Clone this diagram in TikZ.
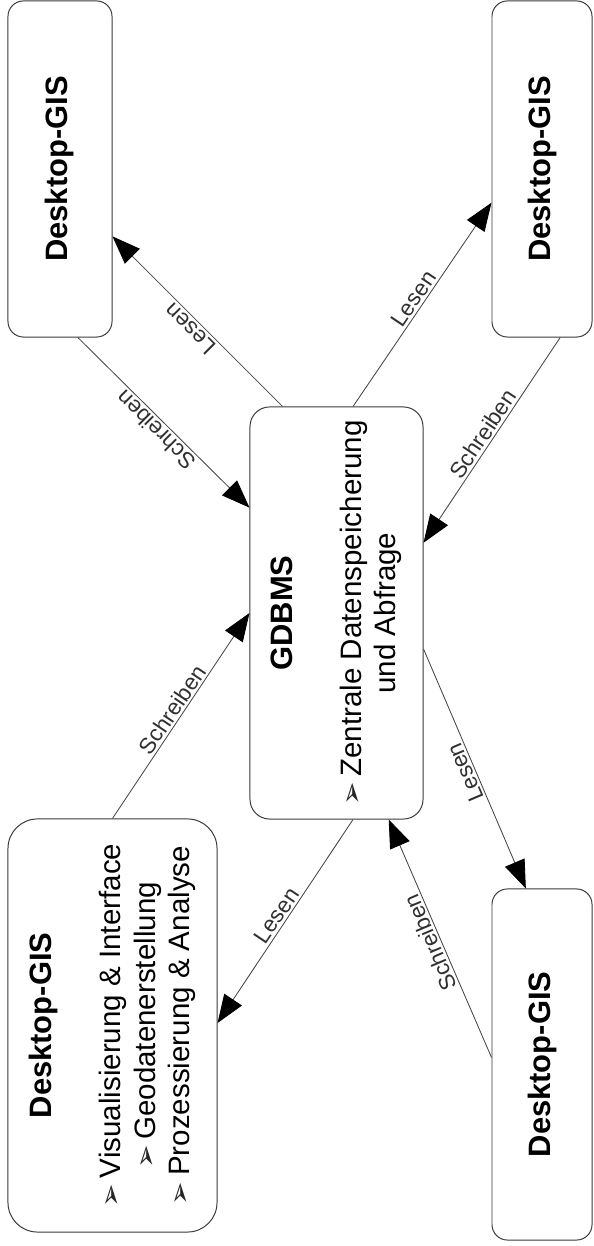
\documentclass[tikz,border=0pt]{standalone}
\usepackage{fontspec}
\setmainfont{Liberation Sans}
\newfontfamily\dingfont{DejaVu Sans}
\usetikzlibrary{arrows.meta,calc}
\definecolor{gisline}{HTML}{3A3A3A}
\definecolor{gisarrow}{HTML}{444444}
\definecolor{gislabel}{HTML}{303030}
\newcommand{\gisitem}{{\dingfont\fontsize{20}{20}\selectfont\color{black!85}➢}\hspace{4pt}}
\newcommand{\gistitle}[1]{{\bfseries\fontsize{22}{24}\selectfont #1}}
\tikzset{
  gisbox/.style={
    draw=gisline,
    fill=white,
    line width=0.7pt,
    rounded corners=11pt,
    inner sep=0pt
  },
  boxtext/.style={
    rotate=90,
    align=center,
    inner sep=0pt,
    font=\fontsize{21}{24.5}\selectfont
  },
  flowArrow/.style={-{Triangle[length=20pt,width=15pt,color=black]}, draw=gisarrow, line width=0.6pt},
  edgelabel/.style={
    above,
    font=\fontsize{16}{18}\selectfont,
    text=gislabel,
    inner sep=1.5pt
  }
}

\begin{document}
\begin{tikzpicture}[x=0.025cm, y=0.025cm]
  \useasboundingbox (0,0) rectangle (593,1246);

  % boxes
  \node[gisbox, minimum width=2.6cm, minimum height=8.4cm] (tl) at (60,1077) {};
  \node[gisbox, minimum width=2.5cm, minimum height=8.4cm] (tr) at (542,1077) {};
  \node[gisbox, rounded corners=14pt, minimum width=4.325cm, minimum height=10.3cm] (g) at (336.5,633) {};
  \node[gisbox, rounded corners=21pt, minimum width=5.225cm, minimum height=10.325cm] (bl) at (112.5,220.5) {};
  \node[gisbox, minimum width=2.5cm, minimum height=8.775cm] (br) at (542,181.5) {};

  \node[boxtext] (tltext) at (tl) {\gistitle{Desktop-GIS}};
  \node[boxtext] (trtext) at (tr) {\gistitle{Desktop-GIS}};
  \node[boxtext] (brtext) at (br) {\gistitle{Desktop-GIS}};
  \node[boxtext] (gtext) at (g) {\gistitle{GDBMS}\\[24.5pt]
    \gisitem Zentrale Datenspeicherung\\und Abfrage};
  \node[boxtext] (bltext) at (bl) {\gistitle{Desktop-GIS}\\[24.5pt]
    \gisitem Visualisierung \& Interface\\
    \gisitem Geodatenerstellung\\
    \gisitem Prozessierung \& Analyse};

  % Lesen / Schreiben
  \draw[flowArrow] ($(g.north west)!0.19!(g.north east)$) -- node[edgelabel, rotate=135] {Lesen} ($(tl.north east)!0.70!(tl.south east)$);
  \draw[flowArrow] ($(tl.south west)!0.67!(tl.south east)$) -- node[edgelabel, rotate=135] {Schreiben} ($(g.north west)!0.245!(g.south west)$);
  \draw[flowArrow] ($(g.north west)!0.595!(g.north east)$) -- node[edgelabel, rotate=56] {Lesen} ($(tr.north west)!0.60!(tr.south west)$);
  \draw[flowArrow] ($(tr.south west)!0.68!(tr.south east)$) -- node[edgelabel, rotate=56] {Schreiben} ($(g.north east)!0.33!(g.south east)$);
  \draw[flowArrow] ($(g.north east)!0.587!(g.south east)$) -- node[edgelabel, rotate=113] {Lesen} ($(br.north west)!0.34!(br.north east)$);
  \draw[flowArrow] ($(br.north west)!0.48!(br.south west)$) -- node[edgelabel, rotate=113] {Schreiben} ($(g.south west)!0.80!(g.south east)$);
  \draw[flowArrow] ($(g.south west)!0.595!(g.south east)$) -- node[edgelabel, rotate=56] {Lesen} ($(bl.north east)!0.494!(bl.south east)$);
  \draw[flowArrow] (bl.north) -- node[edgelabel, rotate=56] {Schreiben} (g.west);
\end{tikzpicture}
\end{document}
